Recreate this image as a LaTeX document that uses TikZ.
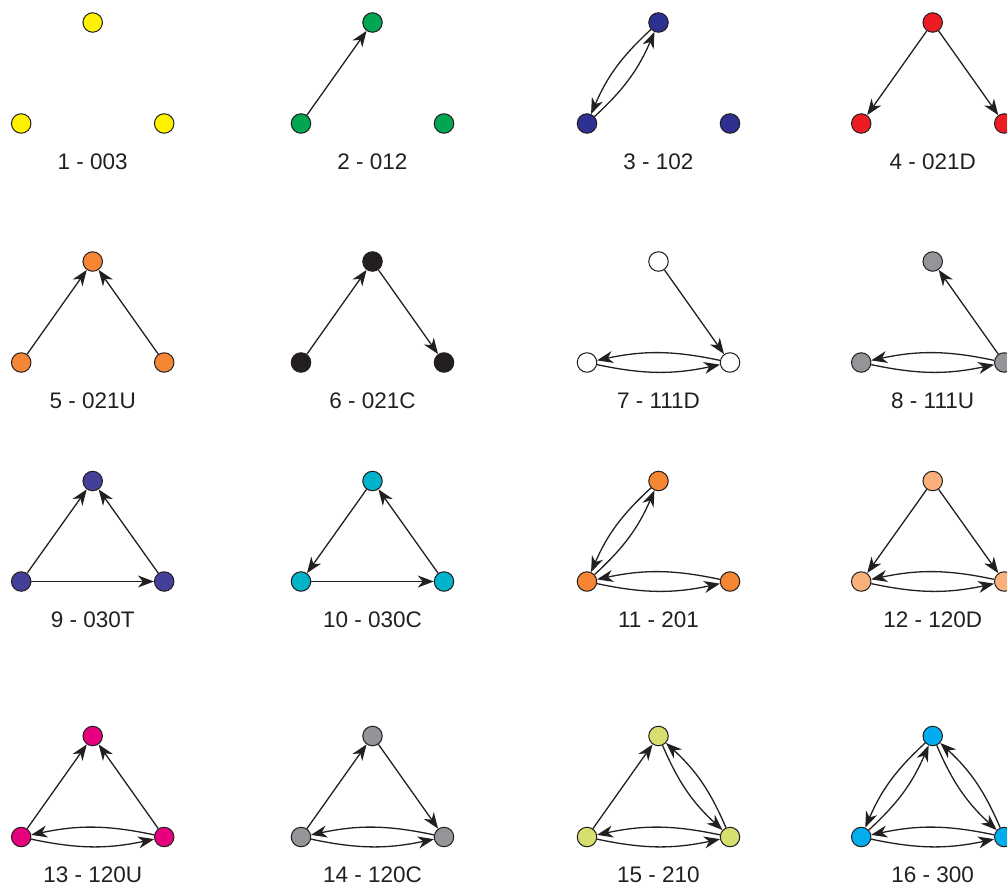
\documentclass[tikz,border=0pt]{standalone}
\usepackage{fontspec}
\setmainfont{Liberation Sans}
\usetikzlibrary{arrows.meta}
\definecolor{cyel}{HTML}{FFF200}
\definecolor{cgrn}{HTML}{00A651}
\definecolor{cnav}{HTML}{2E3192}
\definecolor{cred}{HTML}{ED1C24}
\definecolor{corg}{HTML}{F58634}
\definecolor{cblk}{HTML}{231F20}
\definecolor{cgry}{HTML}{939598}
\definecolor{cpur}{HTML}{443F98}
\definecolor{ccya}{HTML}{00B2CA}
\definecolor{clor}{HTML}{FBB07C}
\definecolor{cmag}{HTML}{E6007E}
\definecolor{cygr}{HTML}{D7DF6F}
\definecolor{csky}{HTML}{00AEEF}
\definecolor{ink}{HTML}{231F20}
\newcommand{\mytriad}[6]{%
  \node[vtx,fill=#5] (t#1) at (#2,#3) {};
  \node[vtx,fill=#5] (l#1) at ({#2-71.5},#4) {};
  \node[vtx,fill=#5] (r#1) at ({#2+71.5},#4) {};
  \node[lab] (n#1) at (#2,{#4+38}) {#6};
}
\begin{document}
\begin{tikzpicture}[x=1pt,y=-1pt,
  vtx/.style={circle,draw=ink,line width=1pt,minimum size=19.5pt,inner sep=0pt},
  lab/.style={inner sep=0pt,font=\fontsize{22.5}{26}\selectfont,text=ink},
  ed/.style={-{Stealth[length=16pt,width=12pt,inset=5pt]},line width=1.3pt,draw=ink},
  mu/.style={ed,bend right=12}]
\useasboundingbox (0,0) rectangle (1007,888);
% row 1
\mytriad{1}{92.7}{22.5}{123.5}{cyel}{1 - 003}
\mytriad{2}{372.5}{22.5}{123.5}{cgrn}{2 - 012}
\mytriad{3}{658.5}{22.5}{123.5}{cnav}{3 - 102}
\mytriad{4}{932.7}{22.5}{123.5}{cred}{4 - 021D}
% row 2
\mytriad{5}{92.7}{261.5}{362.5}{corg}{5 - 021U}
\mytriad{6}{372.5}{261.5}{362.5}{cblk}{6 - 021C}
\mytriad{7}{658.5}{261.5}{362.5}{white}{7 - 111D}
\mytriad{8}{932.7}{261.5}{362.5}{cgry}{8 - 111U}
% row 3
\mytriad{9}{92.7}{481}{581.5}{cpur}{9 - 030T}
\mytriad{10}{372.5}{481}{581.5}{ccya}{10 - 030C}
\mytriad{11}{658.5}{481}{581.5}{corg}{11 - 201}
\mytriad{12}{932.7}{481}{581.5}{clor}{12 - 120D}
% row 4
\mytriad{13}{92.7}{736}{837}{cmag}{13 - 120U}
\mytriad{14}{372.5}{736}{837}{cgry}{14 - 120C}
\mytriad{15}{658.5}{736}{837}{cygr}{15 - 210}
\mytriad{16}{932.7}{736}{837}{csky}{16 - 300}
% edges
\draw[ed] (l2) -- (t2);
\draw[mu] (l3) to (t3); \draw[mu] (t3) to (l3);
\draw[ed] (t4) -- (l4); \draw[ed] (t4) -- (r4);
\draw[ed] (l5) -- (t5); \draw[ed] (r5) -- (t5);
\draw[ed] (l6) -- (t6); \draw[ed] (t6) -- (r6);
\draw[ed] (t7) -- (r7); \draw[mu] (l7) to (r7); \draw[mu] (r7) to (l7);
\draw[ed] (r8) -- (t8); \draw[mu] (l8) to (r8); \draw[mu] (r8) to (l8);
\draw[ed] (l9) -- (t9); \draw[ed] (r9) -- (t9); \draw[ed] (l9) -- (r9);
\draw[ed] (t10) -- (l10); \draw[ed] (r10) -- (t10); \draw[ed] (l10) -- (r10);
\draw[mu] (l11) to (t11); \draw[mu] (t11) to (l11); \draw[mu] (l11) to (r11); \draw[mu] (r11) to (l11);
\draw[ed] (t12) -- (l12); \draw[ed] (t12) -- (r12); \draw[mu] (l12) to (r12); \draw[mu] (r12) to (l12);
\draw[ed] (l13) -- (t13); \draw[ed] (r13) -- (t13); \draw[mu] (l13) to (r13); \draw[mu] (r13) to (l13);
\draw[ed] (l14) -- (t14); \draw[ed] (t14) -- (r14); \draw[mu] (l14) to (r14); \draw[mu] (r14) to (l14);
\draw[ed] (l15) -- (t15); \draw[mu] (t15) to (r15); \draw[mu] (r15) to (t15); \draw[mu] (l15) to (r15); \draw[mu] (r15) to (l15);
\draw[mu] (l16) to (t16); \draw[mu] (t16) to (l16); \draw[mu] (t16) to (r16); \draw[mu] (r16) to (t16); \draw[mu] (l16) to (r16); \draw[mu] (r16) to (l16);
\end{tikzpicture}
\end{document}
